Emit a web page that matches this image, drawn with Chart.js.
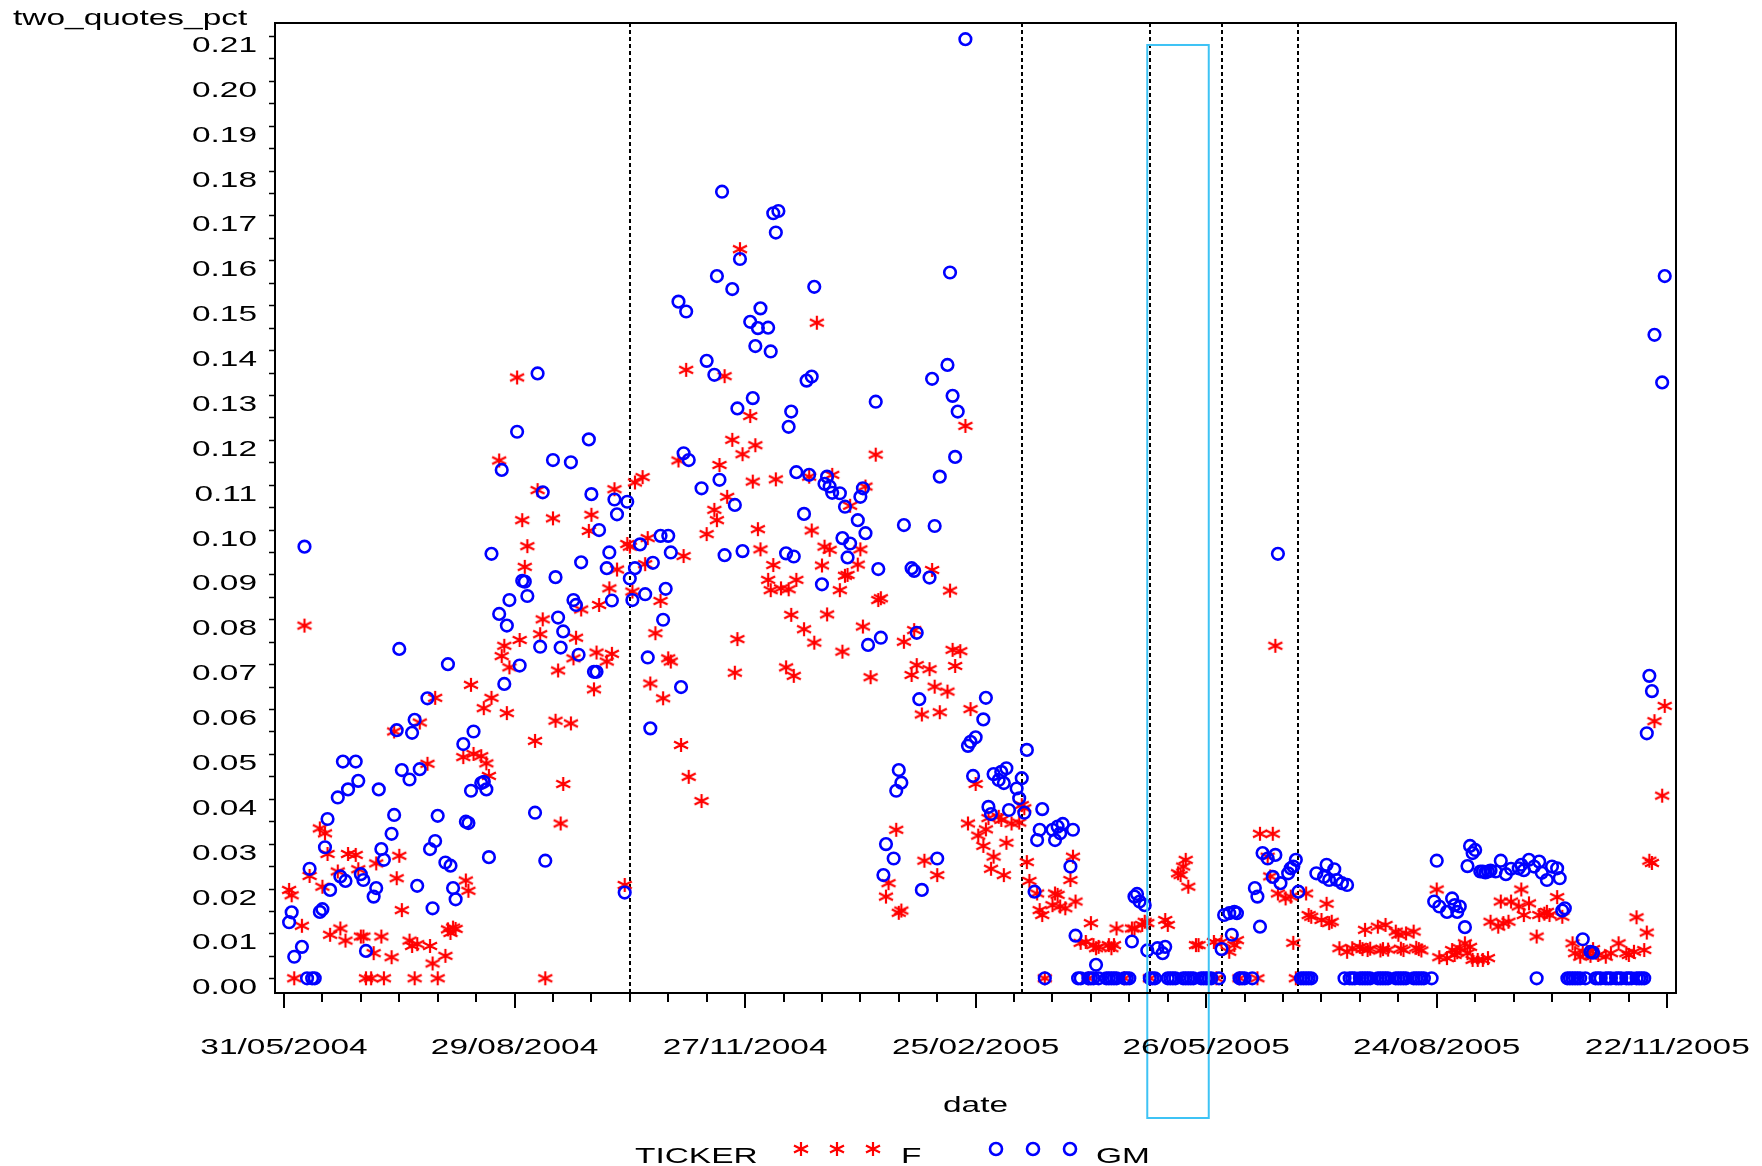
<!DOCTYPE html>
<html>
<head>
<meta charset="utf-8">
<script src="https://cdn.jsdelivr.net/npm/chart.js@4.4.1/dist/chart.umd.min.js"></script>
<style>
  html, body { margin: 0; padding: 0; background: #fff; }
  canvas { display: block; }
</style>
</head>
<body>
<canvas id="chart" width="1762" height="1166"></canvas>
<script>
// x values are days counted from 31/05/2004
const xTickDays = [0, 90, 180, 270, 360, 450, 540];
const xTickLabels = ['31/05/2004', '29/08/2004', '27/11/2004', '25/02/2005', '26/05/2005', '24/08/2005', '22/11/2005'];
const refLineDays = [135, 288, 338, 366, 396];
const boxDays = [337, 361];
const boxTop = 0.208;

// [day, two_quotes_pct]
const fPoints = [[2,.0197],[3,.0185],[4,0],[7,.0117],[8,.0786],[10,.0228],[14,.0334],[15,.0204],[16,.0323],[17,.0277],[18,.0097],[21,.0238],[22,.0111],[24,.0084],[25,.0277],[28,.0275],[29,.0243],[30,.0093],[31,.0093],[32,0],[34,0],[35,.0056],[36,.0256],[38,.0093],[39,0],[42,.0047],[43,.0550],[44,.0223],[45,.0273],[46,.0152],[49,.0084],[50,.0072],[51,0],[52,.0076],[53,.0570],[56,.0478],[57,.0072],[58,.0033],[59,.0625],[60,0],[63,.0050],[64,.0109],[65,.0101],[66,.0113],[67,.0110],[70,.0493],[71,.0218],[72,.0195],[73,.0654],[74,.0500],[77,.0495],[78,.0602],[79,.0479],[80,.0451],[81,.0625],[84,.1154],[85,.0718],[86,.0741],[87,.0591],[88,.0693],[91,.1339],[92,.0754],[93,.1021],[94,.0917],[95,.0963],[98,.0529],[99,.1088],[100,.0767],[101,.0800],[102,0],[105,.1025],[106,.0574],[107,.0686],[108,.0345],[109,.0433],[112,.0568],[113,.0713],[114,.0759],[116,.0822],[119,.0997],[120,.1033],[121,.0644],[122,.0726],[123,.0832],[126,.0706],[127,.0869],[128,.0723],[129,.1090],[130,.0911],[133,.0208],[134,.0968],[135,.0962],[136,.0862],[137,.1105],[140,.1117],[141,.0923],[142,.0981],[143,.0657],[145,.0769],[147,.0841],[148,.0624],[150,.0713],[151,.0706],[154,.1154],[155,.0520],[156,.0941],[157,.1356],[158,.0449],[163,.0395],[165,.0990],[168,.1044],[169,.1021],[170,.1144],[172,.1342],[173,.1073],[175,.1200],[176,.0681],[177,.0756],[178,.1625],[179,.1168],[182,.1253],[183,.1107],[184,.1188],[185,.1001],[186,.0956],[189,.0888],[190,.0865],[191,.0921],[192,.1112],[194,.0869],[196,.0693],[197,.0867],[198,.0810],[199,.0674],[200,.0888],[203,.0778],[205,.1118],[206,.0998],[207,.0748],[208,.1461],[210,.0920],[211,.0962],[212,.0811],[213,.0955],[214,.1122],[217,.0865],[218,.0728],[219,.0897],[220,.0899],[221,.1053],[224,.0922],[225,.0956],[226,.0784],[227,.1096],[229,.0671],[231,.1167],[232,.0843],[233,.0847],[235,.0182],[236,.0212],[239,.0331],[240,.0146],[241,.0151],[242,.0750],[245,.0676],[246,.0776],[247,.0698],[249,.0588],[250,.0262],[252,.0689],[253,.0910],[254,.0650],[255,.0230],[256,.0593],[259,.0639],[260,.0864],[261,.0732],[262,.0696],[264,.0729],[266,.1231],[267,.0345],[268,.0600],[270,.0433],[271,.0318],[273,.0295],[274,.0332],[275,.0357],[276,.0244],[277,.0271],[279,.0360],[280,.0353],[281,.0230],[282,.0302],[284,.0345],[287,.0347],[288,.0386],[289,.0379],[290,.0259],[291,.0217],[294,.0189],[295,.0152],[296,.0141],[297,0],[300,.0163],[301,.0189],[302,.0186],[303,.0160],[305,.0156],[307,.0219],[308,.0271],[309,.0171],[311,.0079],[313,.0081],[314,0],[315,.0123],[316,.0074],[317,.0067],[318,.0070],[322,.0074],[323,.0067],[324,.0074],[325,.0111],[328,0],[331,.0111],[332,.0111],[335,.0119],[336,.0126],[337,.0123],[338,0],[344,.0130],[345,.0119],[349,.0234],[350,.0230],[351,.0249],[352,.0264],[353,.0204],[356,.0074],[357,.0074],[363,.0081],[364,0],[366,.0081],[369,.0059],[371,.0074],[372,.0085],[373,0],[380,0],[381,.0322],[384,.0271],[385,.0227],[386,.0322],[387,.0741],[388,.0189],[391,.0178],[393,.0182],[394,.0079],[395,0],[399,.0189],[400,.0141],[401,.0137],[405,.0130],[407,.0166],[408,.0123],[409,.0126],[412,.0067],[415,.0059],[417,.0067],[420,.0070],[421,.0065],[422,.0108],[423,.0063],[424,.0066],[427,.0115],[428,.0062],[429,.0065],[430,.0119],[431,.0064],[434,.0104],[435,.0097],[436,.0066],[437,.0063],[438,.0100],[441,.0104],[442,.0068],[443,.0065],[444,.0062],[450,.0198],[451,.0047],[454,.0045],[456,.0063],[457,.0052],[458,.0058],[459,.0067],[461,.0078],[462,.0056],[463,.0070],[464,.0041],[466,.0041],[468,.0041],[470,.0045],[471,.0126],[474,.0115],[475,.0171],[476,.0123],[478,.0126],[479,.0171],[482,.0160],[483,.0198],[484,.0141],[486,.0167],[489,.0093],[490,.0141],[492,.0144],[493,.0148],[494,.0141],[497,.0181],[499,.0137],[503,.0078],[504,.0056],[506,.0048],[507,.0060],[509,.0056],[510,.0050],[511,.0065],[513,.0052],[516,.0048],[518,.0056],[521,.0078],[524,.0056],[525,.0052],[527,.0059],[528,.0136],[531,.0063],[532,.0102],[533,.0262],[534,.0257],[535,.0573],[538,.0407],[539,.0607]];

const gmPoints = [[2,.0125],[3,.0147],[4,.0048],[7,.0070],[8,.0962],[9,0],[10,.0244],[11,0],[12,0],[14,.0148],[15,.0154],[16,.0292],[17,.0355],[18,.0197],[21,.0403],[22,.0227],[23,.0483],[24,.0217],[25,.0421],[28,.0483],[29,.0440],[30,.0232],[31,.0219],[32,.0061],[35,.0182],[36,.0201],[37,.0421],[38,.0288],[39,.0264],[42,.0322],[43,.0364],[44,.0553],[45,.0734],[46,.0464],[49,.0443],[50,.0547],[51,.0576],[52,.0206],[53,.0466],[56,.0624],[57,.0288],[58,.0156],[59,.0306],[60,.0362],[63,.0258],[64,.0700],[65,.0251],[66,.0201],[67,.0176],[70,.0522],[71,.0349],[72,.0346],[73,.0418],[74,.0550],[77,.0435],[78,.0438],[79,.0421],[80,.0270],[81,.0946],[84,.0812],[85,.1133],[86,.0656],[87,.0786],[88,.0843],[91,.1218],[92,.0697],[93,.0886],[94,.0884],[95,.0852],[98,.0369],[99,.1348],[100,.0739],[101,.1083],[102,.0262],[105,.1155],[106,.0894],[107,.0804],[108,.0737],[109,.0773],[112,.1150],[113,.0843],[114,.0832],[115,.0721],[116,.0927],[119,.1201],[120,.1079],[121,.0683],[122,.0683],[123,.0999],[126,.0914],[127,.0949],[128,.0842],[129,.1067],[130,.1034],[133,.0191],[134,.1062],[135,.0891],[136,.0843],[137,.0914],[139,.0967],[141,.0856],[142,.0715],[143,.0557],[144,.0926],[147,.0986],[148,.0799],[149,.0868],[150,.0986],[151,.0949],[154,.1508],[155,.0649],[156,.1170],[157,.1486],[158,.1155],[163,.1092],[165,.1376],[168,.1345],[169,.1565],[170,.1111],[171,.1753],[172,.0943],[175,.1536],[176,.1055],[177,.1270],[178,.1603],[179,.0952],[182,.1463],[183,.1293],[184,.1409],[185,.1449],[186,.1493],[189,.1450],[190,.1397],[191,.1705],[192,.1662],[193,.1710],[196,.0947],[197,.1229],[198,.1263],[199,.0940],[200,.1128],[203,.1035],[204,.1332],[205,.1122],[206,.1341],[207,.1541],[210,.0878],[211,.1102],[212,.1118],[213,.1096],[214,.1082],[217,.1081],[218,.0981],[219,.1051],[220,.0938],[221,.0969],[224,.1021],[225,.1073],[226,.1092],[227,.0992],[228,.0743],[231,.1285],[232,.0912],[233,.0759],[234,.0230],[235,.0299],[238,.0267],[239,.0418],[240,.0464],[241,.0436],[242,.1010],[245,.0914],[246,.0908],[247,.0770],[248,.0622],[249,.0197],[252,.0893],[253,.1336],[254,.1008],[255,.0267],[256,.1118],[259,.1367],[260,.1573],[261,.1298],[262,.1162],[263,.1263],[266,.2093],[267,.0518],[268,.0527],[269,.0451],[270,.0537],[273,.0577],[274,.0625],[275,.0382],[276,.0366],[277,.0455],[279,.0442],[280,.0460],[281,.0435],[282,.0468],[283,.0375],[286,.0423],[287,.0401],[288,.0446],[289,.0369],[290,.0509],[293,.0193],[294,.0308],[295,.0331],[296,.0377],[297,0],[300,.0331],[301,.0308],[302,.0338],[303,.0323],[304,.0344],[307,.0249],[308,.0331],[309,.0095],[310,0],[311,0],[314,0],[315,0],[316,0],[317,.0030],[318,0],[321,0],[322,0],[323,0],[324,0],[325,0],[328,0],[329,0],[330,0],[331,.0082],[332,.0182],[333,.0188],[334,.0171],[336,.0163],[337,.0062],[338,0],[339,0],[340,0],[341,.0067],[343,.0056],[344,.0070],[345,0],[346,0],[347,0],[348,0],[351,0],[352,0],[353,0],[354,0],[355,0],[358,0],[359,0],[360,0],[361,0],[362,0],[365,0],[366,.0065],[367,.0141],[369,.0145],[370,.0097],[371,.0148],[372,.0145],[373,0],[374,0],[375,0],[378,0],[379,.0201],[380,.0182],[381,.0115],[382,.0279],[384,.0267],[386,.0226],[387,.0275],[388,.0946],[389,.0212],[392,.0234],[393,.0245],[394,.0249],[395,.0264],[396,.0193],[397,0],[398,0],[399,0],[400,0],[401,0],[403,.0234],[406,.0226],[407,.0253],[408,.0219],[410,.0243],[411,.0219],[413,.0212],[414,0],[415,.0208],[416,0],[417,0],[418,0],[420,0],[421,0],[422,0],[423,0],[424,0],[427,0],[428,0],[429,0],[430,0],[431,0],[434,0],[435,0],[436,0],[437,0],[438,0],[441,0],[442,0],[443,0],[444,0],[445,0],[448,0],[449,.0171],[450,.0262],[451,.0160],[454,.0148],[456,.0178],[457,.0163],[458,.0148],[459,.0160],[461,.0114],[462,.0250],[463,.0295],[464,.0279],[465,.0286],[467,.0238],[468,.0238],[469,.0236],[470,.0238],[471,.0240],[473,.0238],[475,.0262],[477,.0232],[479,.0244],[482,.0245],[483,.0253],[484,.0241],[486,.0264],[488,.0249],[489,0],[490,.0260],[491,.0235],[493,.0219],[495,.0249],[497,.0245],[498,.0223],[499,.0151],[500,.0156],[501,0],[502,0],[503,0],[504,0],[505,0],[506,0],[507,.0087],[508,0],[510,.0059],[511,.0057],[512,0],[513,0],[514,0],[516,0],[517,0],[518,0],[520,0],[521,0],[522,0],[524,0],[525,0],[526,0],[528,0],[529,0],[530,0],[531,0],[532,.0546],[533,.0674],[534,.0640],[535,.1434],[538,.1328],[539,.1565]];

const FONT = '22px "Liberation Sans", Arial, sans-serif';
const STRETCH = 1.52; // the original font is drawn wide

function wideText(ctx, txt, x, y, align) {
  ctx.font = FONT;
  const w = ctx.measureText(txt).width * STRETCH;
  let left = x;
  if (align === 'center') left = x - w / 2;
  if (align === 'right') left = x - w;
  ctx.save();
  ctx.translate(left, y);
  ctx.scale(STRETCH, 1);
  ctx.fillStyle = '#000';
  ctx.textAlign = 'left';
  ctx.textBaseline = 'alphabetic';
  ctx.fillText(txt, 0, 0);
  ctx.restore();
}

function makeStar() {
  const c = document.createElement('canvas');
  c.width = 18;
  c.height = 18;
  const g = c.getContext('2d');
  g.strokeStyle = '#ff0000';
  g.lineWidth = 2.2;
  g.beginPath();
  g.moveTo(9, 2); g.lineTo(9, 16);
  g.moveTo(2, 5.4); g.lineTo(16, 12.6);
  g.moveTo(2, 12.6); g.lineTo(16, 5.4);
  g.stroke();
  return c;
}
const starImg = makeStar();

const samFrame = {
  id: 'samFrame',
  beforeDatasetsDraw(chart) {
    const { ctx, chartArea: a, scales: { x } } = chart;
    ctx.save();
    ctx.strokeStyle = '#000';
    ctx.lineWidth = 2;
    ctx.setLineDash([4, 3]);
    refLineDays.forEach((d) => {
      const px = Math.round(x.getPixelForValue(d));
      ctx.beginPath();
      ctx.moveTo(px, a.top);
      ctx.lineTo(px, a.bottom);
      ctx.stroke();
    });
    ctx.restore();
  },
  afterDatasetsDraw(chart) {
    const { ctx, chartArea: a, scales: { x, y } } = chart;
    const x0 = x.getPixelForValue(boxDays[0]);
    const x1 = x.getPixelForValue(boxDays[1]);
    const y0 = y.getPixelForValue(boxTop);
    ctx.save();
    ctx.strokeStyle = '#3ec3f5';
    ctx.lineWidth = 2;
    ctx.strokeRect(x0, y0, x1 - x0, a.bottom + 125 - y0);
    ctx.restore();
  },
  afterDraw(chart) {
    const { ctx, chartArea: a, scales: { x, y } } = chart;
    ctx.save();
    ctx.strokeStyle = '#000';
    ctx.lineWidth = 2;
    ctx.strokeRect(a.left, a.top, a.right - a.left, a.bottom - a.top);

    // y ticks every 0.005, labels every 0.01
    ctx.lineWidth = 1.5;
    for (let i = 0; i <= 42; i++) {
      const py = Math.round(y.getPixelForValue(i * 0.005)) + 0.5;
      ctx.beginPath();
      ctx.moveTo(a.left - 6, py);
      ctx.lineTo(a.left, py);
      ctx.stroke();
      if (i % 2 === 0) wideText(ctx, (i / 200).toFixed(2), a.left - 18, py + 15, 'right');
    }

    // x ticks every 15 days, long ones at the labels
    ctx.lineWidth = 2;
    for (let d = 0; d <= 540; d += 15) {
      const px = Math.round(x.getPixelForValue(d));
      const major = xTickDays.includes(d);
      ctx.beginPath();
      ctx.moveTo(px, a.bottom);
      ctx.lineTo(px, a.bottom + (major ? 15 : 9));
      ctx.stroke();
    }
    xTickDays.forEach((d, i) => {
      wideText(ctx, xTickLabels[i], x.getPixelForValue(d), a.bottom + 61, 'center');
    });

    wideText(ctx, 'date', (a.left + a.right) / 2, a.bottom + 119, 'center');
    wideText(ctx, 'two_quotes_pct', 13, 25, 'left');

    // legend
    const ly = 1163;
    wideText(ctx, 'TICKER', 635, ly, 'left');
    [801, 837, 873].forEach((cx) => {
      ctx.drawImage(starImg, cx - 9, ly - 23);
    });
    wideText(ctx, 'F', 901, ly, 'left');
    ctx.strokeStyle = '#0000ff';
    ctx.lineWidth = 2.6;
    [996, 1033, 1070].forEach((cx) => {
      ctx.beginPath();
      ctx.arc(cx, ly - 14, 6, 0, Math.PI * 2);
      ctx.stroke();
    });
    wideText(ctx, 'GM', 1096, ly, 'left');
    ctx.restore();
  },
};

new Chart(document.getElementById('chart'), {
  type: 'scatter',
  data: {
    datasets: [
      {
        label: 'F',
        data: fPoints.map(([d, v]) => ({ x: d, y: v })),
        pointStyle: starImg,
        pointRadius: 7,
        borderColor: '#ff0000',
        backgroundColor: '#ff0000',
        order: 2,
      },
      {
        label: 'GM',
        data: gmPoints.map(([d, v]) => ({ x: d, y: v })),
        pointStyle: 'circle',
        pointRadius: 5.8,
        borderWidth: 2.6,
        borderColor: '#0000ff',
        backgroundColor: 'rgba(0,0,0,0)',
        order: 1,
      },
    ],
  },
  options: {
    responsive: false,
    animation: false,
    devicePixelRatio: 1,
    layout: { padding: { top: 23, right: 86, left: 0, bottom: 0 } },
    plugins: { legend: { display: false }, tooltip: { enabled: false } },
    scales: {
      x: {
        type: 'linear',
        min: -3.51,
        max: 543.4,
        ticks: { display: false },
        grid: { display: false },
        border: { display: false },
        afterFit: (s) => { s.height = 173; },
      },
      y: {
        type: 'linear',
        min: -0.00328,
        max: 0.2129,
        ticks: { display: false },
        grid: { display: false },
        border: { display: false },
        afterFit: (s) => { s.width = 275; },
      },
    },
  },
  plugins: [samFrame],
});
</script>
</body>
</html>
